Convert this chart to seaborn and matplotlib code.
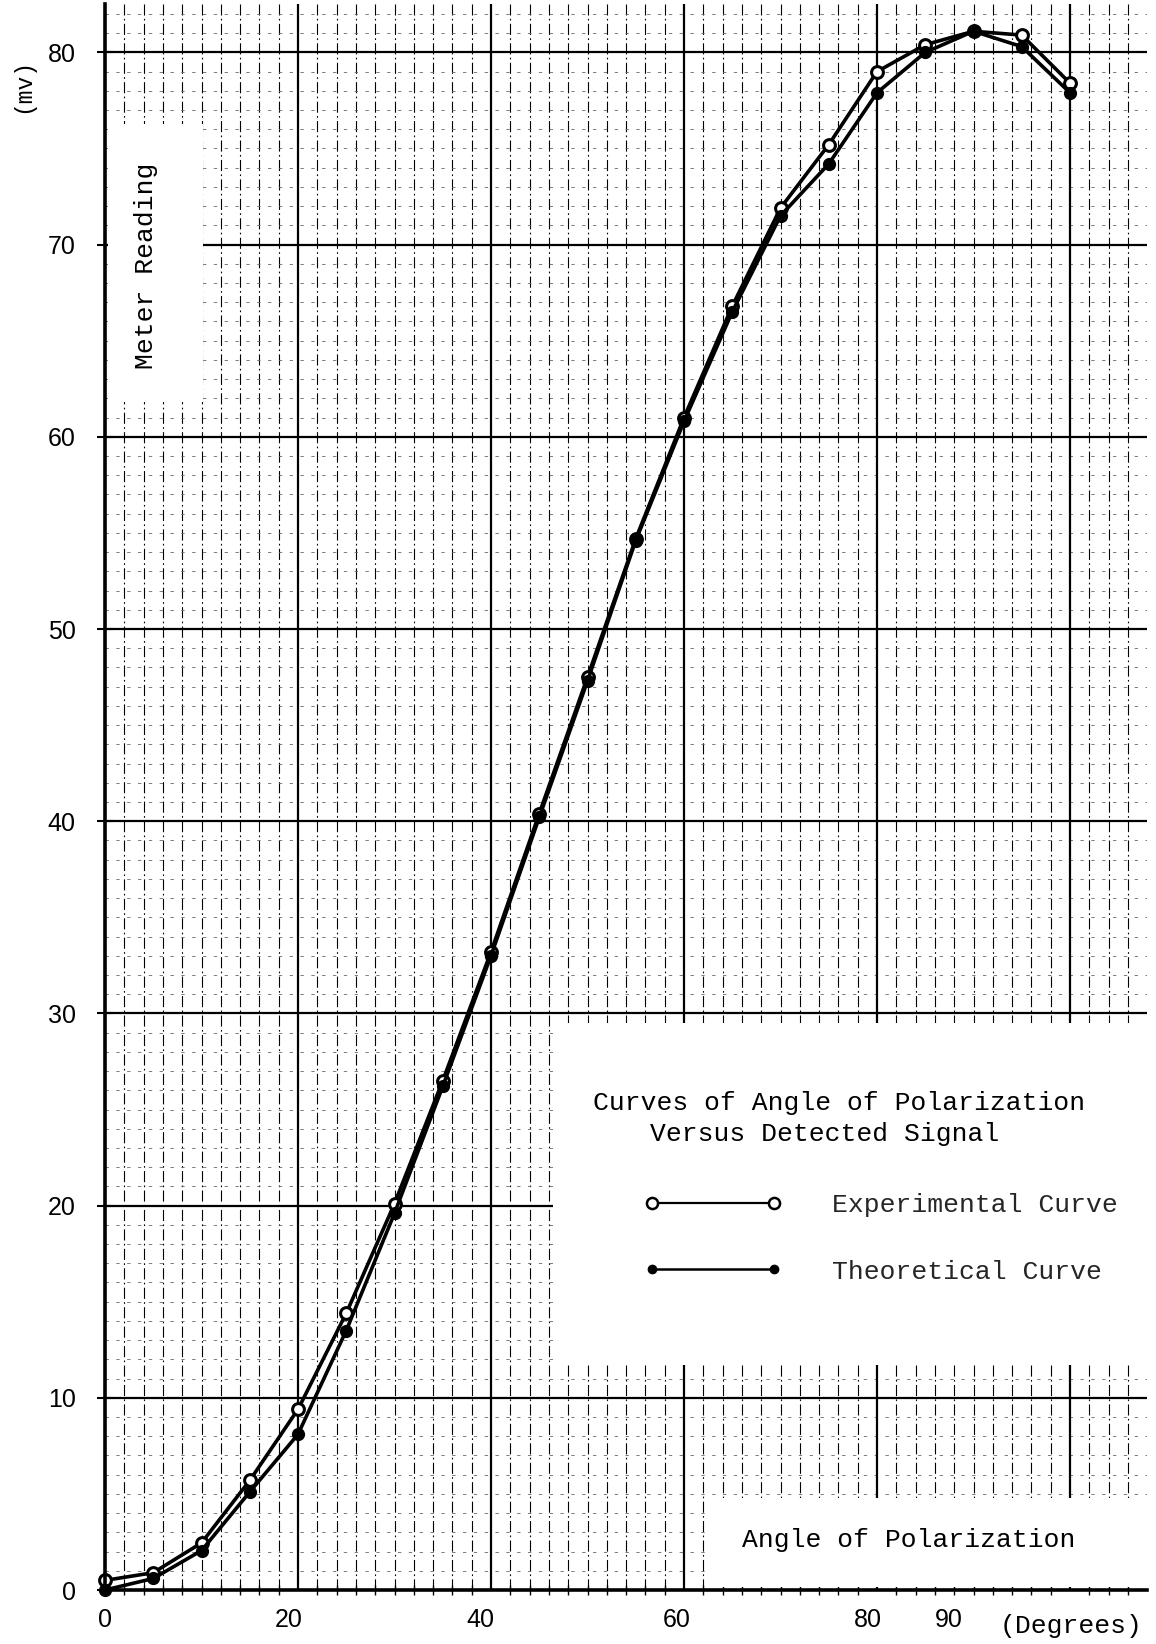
import matplotlib
matplotlib.use("Agg")
import matplotlib.pyplot as plt
import seaborn as sns
import pandas as pd
import numpy as np
from matplotlib.patches import Rectangle
from matplotlib.lines import Line2D
from matplotlib.legend_handler import HandlerLine2D

# ---------------- data ----------------
angles = [0, 5, 10, 15, 20, 25, 30, 35, 40, 45, 50, 55, 60, 65, 70, 75, 80, 85, 90, 95, 100]
experimental = [0.5, 0.9, 2.45, 5.7, 9.4, 14.4, 20.1, 26.5, 33.2, 40.4, 47.5, 54.7,
                61.0, 66.8, 71.9, 75.2, 79.0, 80.4, 81.1, 80.9, 78.4]
theoretical = [0.0, 0.6, 2.05, 5.1, 8.1, 13.5, 19.6, 26.2, 33.0, 40.2, 47.3, 54.6,
               60.8, 66.5, 71.5, 74.2, 77.9, 80.0, 81.1, 80.3, 77.9]

y_ticks = [0, 10, 20, 30, 40, 50, 60, 70, 80]
x_tick_pos = [0, 19.0, 38.9, 59.2, 79.1, 87.4]
x_tick_labels = ["0", "20", "40", "60", "80", "90"]
series_names = ["Experimental Curve", "Theoretical Curve"]
legend_title = ["Curves of Angle of Polarization", "Versus Detected Signal"]

# ---------------- style ----------------
sns.set_theme(style="white")
plt.rcParams['font.family'] = ['Liberation Sans', 'DejaVu Sans']
MONO = ['Liberation Mono', 'DejaVu Sans Mono']

fig = plt.figure(figsize=(11.56, 16.44), dpi=100)
XMAX, YMAX = 108, 82.5
ax = fig.add_axes([105 / 1156, 54 / 1644, XMAX * 9.65 / 1156, YMAX * 19.22 / 1644])
ax.set_xlim(0, XMAX)
ax.set_ylim(0, YMAX)

# ---------------- graph paper ----------------
minor_x = [v for v in np.arange(2, XMAX, 2) if v % 20 != 0]
minor_y = [v for v in np.arange(1, YMAX, 1) if v % 10 != 0]
ax.vlines(minor_x, 0, YMAX, colors='black', linestyles=(0, (10, 3, 1.5, 3)),
          linewidth=0.8, zorder=0.5)
ax.hlines(minor_y, 0, XMAX, colors='#666666', linestyles=(0, (4, 9)),
          linewidth=0.6, zorder=0.5)
ax.vlines([20, 40, 60, 80, 100], 0, YMAX, colors='black', linewidth=1.6, zorder=0.6)
ax.hlines([10, 20, 30, 40, 50, 60, 70, 80], 0, XMAX, colors='black', linewidth=1.6, zorder=0.6)

# blank (pasted) areas of the sheet
for (x0, y0, w, h) in [(0.3, 61.8, 9.9, 14.5),
                       (46.4, 11.7, 70.0, 17.8),
                       (62.7, 0.15, 60.0, 4.65)]:
    ax.add_patch(Rectangle((x0, y0), w, h, facecolor='white', edgecolor='none', zorder=1.5))

# ---------------- curves ----------------
df_exp = pd.DataFrame({"angle": angles, "reading": experimental})
df_theo = pd.DataFrame({"angle": angles, "reading": theoretical})
sns.lineplot(data=df_exp, x="angle", y="reading", ax=ax, color='black', linewidth=2.6,
             marker='o', markersize=8.5, markerfacecolor='white', markeredgecolor='black',
             markeredgewidth=2.2, zorder=4, clip_on=False, legend=False)
sns.lineplot(data=df_theo, x="angle", y="reading", ax=ax, color='black', linewidth=2.6,
             marker='o', markersize=8.5, markerfacecolor='black', markeredgecolor='black',
             markeredgewidth=1.0, zorder=4, clip_on=False, legend=False)
ax.set_xlabel("")
ax.set_ylabel("")

# ---------------- axes, ticks ----------------
for s in ['top', 'right']:
    ax.spines[s].set_visible(False)
for s in ['left', 'bottom']:
    ax.spines[s].set_linewidth(2.6)
    ax.spines[s].set_color('black')
    ax.spines[s].set_zorder(5)

ax.set_yticks(y_ticks)
ax.set_yticklabels([str(v) for v in y_ticks])
ax.set_xticks(x_tick_pos)
ax.set_xticklabels(x_tick_labels)
ax.set_xticks(minor_x, minor=True)
ax.tick_params(axis='y', which='major', direction='inout', length=12, width=1.5,
               color='black', pad=15, labelsize=18, labelcolor='black', left=True)
ax.tick_params(axis='x', which='major', direction='inout', length=0, width=0,
               color='black', pad=13, labelsize=18, labelcolor='black', bottom=True)
ax.tick_params(axis='x', which='minor', direction='inout', length=7, width=1.0,
               color='black', bottom=True)

# ---------------- texts ----------------
ax.text(4.2, 68.9, "Meter Reading", rotation=90, ha='center', va='center',
        family=MONO, fontsize=19, color='black', zorder=6)
ax.text(-8.5, 78.3, "(mv)", rotation=90, ha='center', va='center',
        family=MONO, fontsize=16.5, color='black', clip_on=False)
ax.text(83.3, 2.6, "Angle of Polarization", ha='center', va='center',
        family=MONO, fontsize=19, color='black', zorder=6)
ax.text(100.1, -1.85, "(Degrees)", ha='center', va='center',
        family=MONO, fontsize=19, color='black', clip_on=False)
ax.text(76.1, 25.36, legend_title[0], ha='center', va='center',
        family=MONO, fontsize=19, color='black', zorder=6)
ax.text(74.6, 23.7, legend_title[1], ha='center', va='center',
        family=MONO, fontsize=19, color='black', zorder=6)

exp_handle = Line2D([], [], color='black', linewidth=1.6, marker='o', markersize=8,
                    markerfacecolor='white', markeredgecolor='black', markeredgewidth=1.8)
theo_handle = Line2D([], [], color='black', linewidth=1.8, marker='o', markersize=6,
                     markerfacecolor='black', markeredgecolor='black')
leg = ax.legend([exp_handle, theo_handle], series_names, loc='center left',
                bbox_to_anchor=(56.7, 18.3), bbox_transform=ax.transData,
                frameon=False, numpoints=2, handlelength=4.6, handletextpad=2.2,
                labelspacing=1.62, borderpad=0, borderaxespad=0,
                prop={'family': MONO, 'size': 19},
                handler_map={Line2D: HandlerLine2D(marker_pad=0)})
leg.set_zorder(6)

fig.savefig("out.png", dpi=100, facecolor='white')
